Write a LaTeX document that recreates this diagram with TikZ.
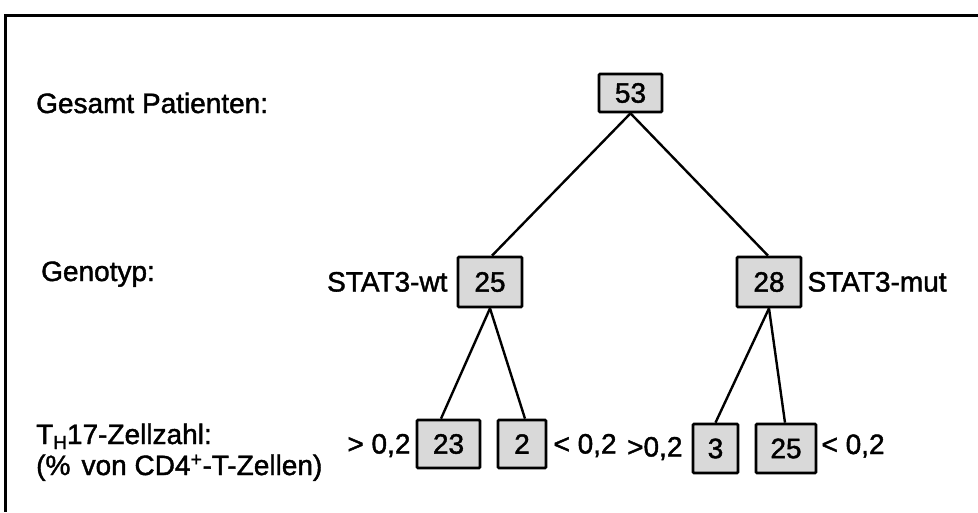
\documentclass[tikz,border=0pt]{standalone}
\usepackage{fontspec}
\setmainfont{Liberation Sans}[FakeBold=1.5]
\definecolor{boxgray}{HTML}{D9D9D9}
\begin{document}
\begin{tikzpicture}[x=1pt,y=-1pt,
  txt/.style={font=\fontsize{28}{32}\selectfont, inner sep=0pt},
  numbox/.style={txt, draw=black, fill=boxgray, line width=2.7pt, rounded corners=1pt},
  conn/.style={line width=2.4pt}]
\useasboundingbox (0,0) rectangle (978,512);
\draw[line width=2.8pt] (978,15.5) -- (5.5,15.5) -- (5.5,512);
% boxes
\node[numbox, minimum width=63pt, minimum height=38pt] (n53) at (630.5,93) {53};
\node[numbox, minimum width=64pt, minimum height=50pt] (n25) at (490,282) {25};
\node[numbox, minimum width=64pt, minimum height=50pt] (n28) at (769,282) {28};
\node[numbox, minimum width=63pt, minimum height=48pt] (n23) at (448.5,444) {23};
\node[numbox, minimum width=48pt, minimum height=48pt] (n2) at (522,444) {2};
\node[numbox, minimum width=45pt, minimum height=49pt] (n3) at (715.5,448.5) {3};
\node[numbox, minimum width=60pt, minimum height=49pt] (n25b) at (786,448.5) {25};
% connectors
\draw[conn] (n53.south) -- ([xshift=2pt]n25.north);
\draw[conn] (n53.south) -- ([xshift=-1pt]n28.north);
\draw[conn] (n25.south) -- ([xshift=-7.5pt]n23.north);
\draw[conn] (n25.south) -- ([xshift=3pt]n2.north);
\draw[conn] (n28.south) -- (n3.north);
\draw[conn] (n28.south) -- ([xshift=-1pt]n25b.north);
% side labels
\node[txt, anchor=base east] (lwt) at ([xshift=-9pt,yshift=-9.5pt]n25.west) {STAT3-wt};
\node[txt, anchor=base west] (lmut) at ([xshift=5pt,yshift=-9.5pt]n28.east) {STAT3-mut};
\node[txt, anchor=base east] (l23) at ([xshift=-5pt,yshift=-9.5pt]n23.west) {> 0,2};
\node[txt, anchor=base west] (l2) at ([xshift=6pt,yshift=-9.5pt]n2.east) {< 0,2};
\node[txt, anchor=base east] (l3) at ([xshift=-9pt,yshift=-8pt]n3.west) {>0,2};
\node[txt, anchor=base west] (l25b) at ([xshift=4pt,yshift=-5.5pt]n25b.east) {< 0,2};
% row labels
\node[txt, anchor=base west] (gesamt) at (36,113) {Gesamt Patienten:};
\node[txt, anchor=base west] (geno) at (41,281) {Genotyp:};
\node[txt, anchor=base west] (th17a) at (36,444) {T\raisebox{-5pt}{\fontsize{19}{19}\selectfont H}17-Zellzahl:};
\node[txt, anchor=base west] (th17b) at (36,475) {(\%\hspace{0.4em}von CD4\textsuperscript{+}-T-Zellen)};
\end{tikzpicture}
\end{document}
